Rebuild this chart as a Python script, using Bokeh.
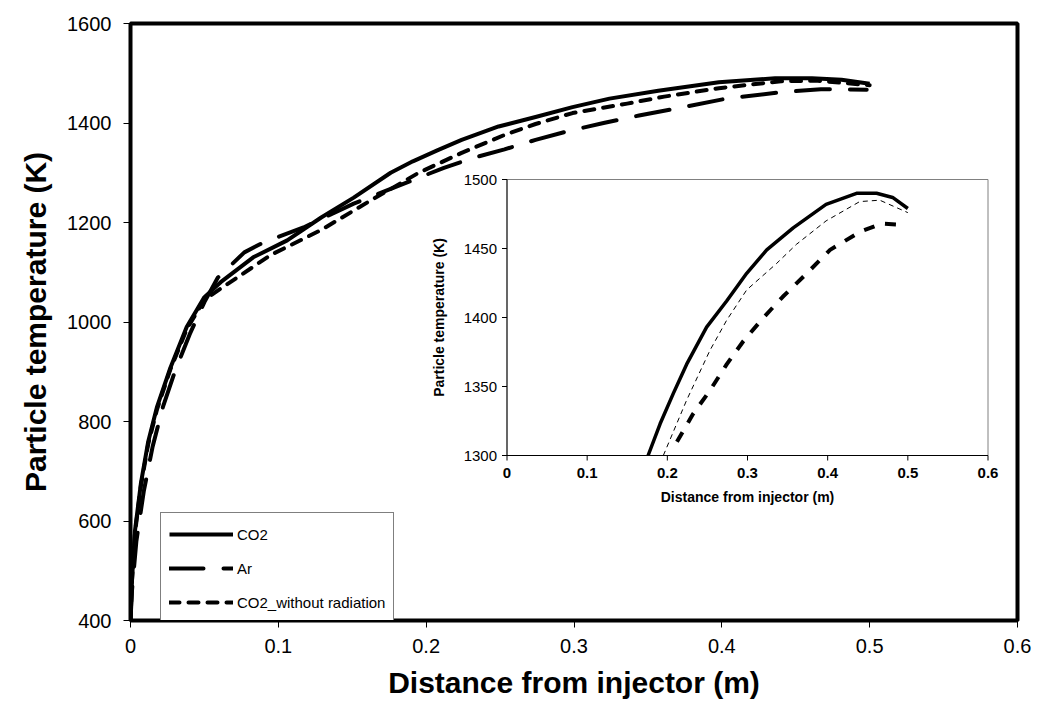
import math
from bokeh.plotting import figure
from bokeh.models import Range1d, FixedTicker, Legend, LegendItem
from bokeh.core.properties import value
from bokeh.embed import file_html
from bokeh.resources import INLINE

# ---------------- data ----------------
series_names = ["CO2", "Ar", "CO2_without radiation"]

co2_x = [0, 0.001, 0.003, 0.007, 0.012, 0.018, 0.027, 0.038, 0.05, 0.061, 0.083, 0.106,
         0.129, 0.151, 0.176, 0.191, 0.2075, 0.224, 0.249, 0.274, 0.299, 0.324, 0.357,
         0.398, 0.436, 0.461, 0.481, 0.5]
co2_t = [400, 480, 580, 675, 760, 830, 908, 990, 1050, 1080, 1130, 1164,
         1210, 1250, 1300, 1323, 1345, 1366, 1393, 1412, 1432, 1449, 1465,
         1482, 1490, 1490, 1487, 1479]

ar_x = [0, 0.001, 0.004, 0.009, 0.015, 0.022, 0.03, 0.04, 0.05, 0.059, 0.077, 0.09,
        0.117, 0.151, 0.185, 0.212, 0.232, 0.253, 0.274, 0.295, 0.32, 0.344, 0.374,
        0.403, 0.44, 0.467, 0.498]
ar_t = [400, 460, 560, 660, 750, 830, 900, 975, 1040, 1089, 1140, 1160,
        1190, 1238, 1278, 1310, 1330, 1347, 1366, 1383, 1400, 1415, 1432,
        1449, 1462, 1468, 1467]

nr_x = [0, 0.001, 0.003, 0.007, 0.012, 0.018, 0.027, 0.038, 0.05, 0.072, 0.095, 0.129,
        0.16, 0.195, 0.224, 0.253, 0.274, 0.299, 0.336, 0.361, 0.398, 0.44, 0.465, 0.5]
nr_t = [400, 480, 575, 670, 755, 825, 905, 985, 1045, 1089, 1135, 1185,
        1240, 1300, 1340, 1376, 1398, 1420, 1439, 1453, 1470, 1484, 1485, 1476]

x_ticks = [0, 0.1, 0.2, 0.3, 0.4, 0.5, 0.6]
x_tick_labels = ["0", "0.1", "0.2", "0.3", "0.4", "0.5", "0.6"]
y_ticks = [400, 600, 800, 1000, 1200, 1400, 1600]

inset_x_ticks = [0, 0.1, 0.2, 0.3, 0.4, 0.5, 0.6]
inset_x_labels = ["0", "0.1", "0.2", "0.3", "0.4", "0.5", "0.6"]
inset_y_ticks = [1300, 1350, 1400, 1450, 1500]
inset_y_labels = ["1300", "1350", "1400", "1450", "1500"]
inset_x_lim = [0, 0.6]
inset_y_lim = [1300, 1500]

x_title = "Distance from injector (m)"
y_title = "Particle temperature (K)"

# ---------------- layout constants ----------------
W, H = 1038, 719
FL, FR, FT, FB = 130, 1017, 23, 620          # main frame edges (px)
IX0, IX1 = 506.5, 987.5                       # inset x=0 and x=0.6 (px)
IY0, IY1 = 455.0, 179.0                       # inset T=1300 and T=1500 (px)
FONT = "Liberation Sans"

p = figure(width=W, height=H, x_range=Range1d(0, 0.6), y_range=Range1d(400, 1600),
           output_backend="svg", toolbar_location=None,
           min_border_left=FL, min_border_right=W - FR,
           min_border_top=FT, min_border_bottom=H - FB)
p.background_fill_color = "white"
p.border_fill_color = "white"
p.outline_line_color = "black"
p.outline_line_width = 4
p.grid.visible = False

p.xaxis.ticker = FixedTicker(ticks=x_ticks)
p.xaxis.major_label_overrides = {v: s for v, s in zip(x_ticks, x_tick_labels)}
p.yaxis.ticker = FixedTicker(ticks=y_ticks)
for ax in (p.xaxis[0], p.yaxis[0]):
    ax.axis_line_color = None
    ax.major_tick_in = 0
    ax.major_tick_out = 7
    ax.major_tick_line_color = "black"
    ax.major_tick_line_width = 1
    ax.minor_tick_line_color = None
    ax.major_label_text_font = FONT
    ax.major_label_text_font_size = "20px"
    ax.major_label_text_color = "black"
    ax.axis_label_text_font = FONT
    ax.axis_label_text_font_size = "30px"
    ax.axis_label_text_font_style = "bold"
    ax.axis_label_text_color = "black"
p.xaxis.major_label_standoff = 11
p.yaxis.major_label_standoff = 12
p.xaxis.axis_label = x_title
p.yaxis.axis_label = y_title
p.xaxis.axis_label_standoff = 10
p.yaxis.axis_label_standoff = 12

# main curves
r_co2 = p.line(co2_x, co2_t, line_color="black", line_width=4, line_join="round")
r_ar = p.line(ar_x, ar_t, line_color="black", line_width=4, line_dash="34 20",
              line_cap="round", line_join="round")
r_nr = p.line(nr_x, nr_t, line_color="black", line_width=4, line_dash="10 9",
              line_cap="round", line_join="round")

# ---------------- inset drawn in the same figure via extra ranges ----------------
fw, fh = FR - FL, FB - FT
sx = (inset_x_lim[1] - inset_x_lim[0]) / (IX1 - IX0)
sy = (inset_y_lim[1] - inset_y_lim[0]) / (IY0 - IY1)
ix_start = inset_x_lim[0] - (IX0 - FL) * sx
iy_start = inset_y_lim[0] - (FB - IY0) * sy
p.extra_x_ranges = {"ix": Range1d(ix_start, ix_start + fw * sx)}
p.extra_y_ranges = {"iy": Range1d(iy_start, iy_start + fh * sy)}
IR = dict(x_range_name="ix", y_range_name="iy")

# inset plot area
p.quad(left=[inset_x_lim[0]], right=[inset_x_lim[1]], bottom=[inset_y_lim[0]], top=[inset_y_lim[1]],
       fill_color="white", line_color=None, **IR)
p.segment(x0=[inset_x_lim[0], inset_x_lim[1]], y0=[inset_y_lim[1], inset_y_lim[0]],
          x1=[inset_x_lim[1], inset_x_lim[1]], y1=[inset_y_lim[1], inset_y_lim[1]],
          line_color="#808080", line_width=1, **IR)
p.segment(x0=[inset_x_lim[0], inset_x_lim[0]], y0=[inset_y_lim[0], inset_y_lim[0]],
          x1=[inset_x_lim[1], inset_x_lim[0]], y1=[inset_y_lim[0], inset_y_lim[1]],
          line_color="black", line_width=1.2, **IR)
p.ray(x=inset_x_ticks, y=[inset_y_lim[0]] * len(inset_x_ticks), length=5, length_units="screen",
      angle=-math.pi / 2, line_color="black", line_width=1, **IR)
p.ray(x=[inset_x_lim[0]] * len(inset_y_ticks), y=inset_y_ticks, length=5, length_units="screen",
      angle=math.pi, line_color="black", line_width=1, **IR)
p.text(x=inset_x_ticks, y=[inset_y_lim[0]] * len(inset_x_ticks), text=inset_x_labels,
       text_font=value(FONT), text_font_size="15px", text_font_style="bold", text_color="black",
       text_align="center", text_baseline="top", y_offset=12, **IR)
p.text(x=[inset_x_lim[0]] * len(inset_y_ticks), y=inset_y_ticks, text=inset_y_labels,
       text_font=value(FONT), text_font_size="15px", text_color="black",
       text_align="right", text_baseline="middle", x_offset=-10, **IR)
p.text(x=[(inset_x_lim[0] + inset_x_lim[1]) / 2], y=[inset_y_lim[0]], text=[x_title],
       text_font=value(FONT), text_font_size="14px", text_font_style="bold", text_color="black",
       text_align="center", text_baseline="top", y_offset=33, **IR)
p.text(x=[inset_x_lim[0]], y=[(inset_y_lim[0] + inset_y_lim[1]) / 2], text=[y_title],
       text_font=value(FONT), text_font_size="14px", text_font_style="bold", text_color="black",
       text_align="center", text_baseline="middle", angle=math.pi / 2, x_offset=-68, **IR)


def keep(xs, ts):
    pairs = [(a, b) for a, b in zip(xs, ts) if b >= inset_y_lim[0]]
    return [a for a, _ in pairs], [b for _, b in pairs]


ix, it = keep(co2_x, co2_t)
p.line(ix, it, line_color="black", line_width=3.5, line_join="round", **IR)
ix, it = keep(nr_x, nr_t)
p.line(ix, it, line_color="black", line_width=1, line_dash="5 4", **IR)
ix, it = keep(ar_x, ar_t)
p.line(ix, it, line_color="black", line_width=4, line_dash="11 11", **IR)

# ---------------- legend ----------------
legend = Legend(items=[LegendItem(label=series_names[0], renderers=[r_co2]),
                       LegendItem(label=series_names[1], renderers=[r_ar]),
                       LegendItem(label=series_names[2], renderers=[r_nr])],
                location=(30, -4))
legend.border_line_color = "black"
legend.border_line_width = 1
legend.background_fill_color = "white"
legend.background_fill_alpha = 1
legend.label_text_font = FONT
legend.label_text_font_size = "15px"
legend.label_text_color = "black"
legend.glyph_width = 64
legend.glyph_height = 26
legend.label_height = 26
legend.label_standoff = 4
legend.spacing = 8
legend.padding = 8
legend.margin = 0
p.add_layout(legend)

open("out.html", "w").write(file_html(p, INLINE))
